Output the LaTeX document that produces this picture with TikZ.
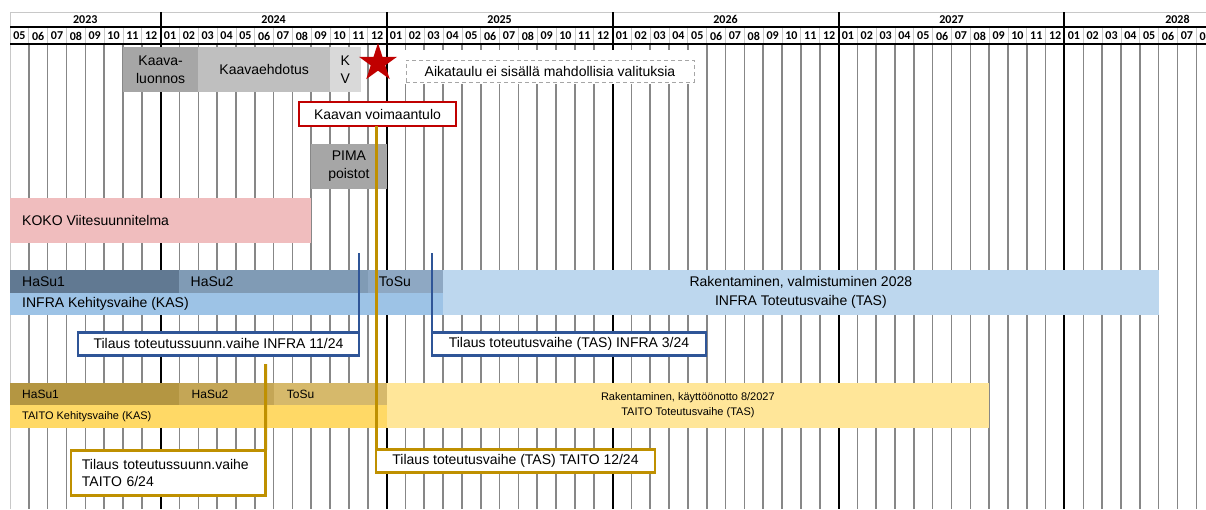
\documentclass[tikz,border=0pt]{standalone}
\usepackage{fontspec}
\setmainfont{Liberation Sans}
\newfontfamily\hdrfont{Carlito}
\usetikzlibrary{shapes.geometric}
\definecolor{gridgray}{HTML}{878787}
\definecolor{hdrgray}{HTML}{C8C8C8}
\definecolor{kaavaA}{HTML}{A6A6A6}
\definecolor{kaavaB}{HTML}{BFBFBF}
\definecolor{kaavaC}{HTML}{D9D9D9}
\definecolor{kokopink}{HTML}{F0BDBE}
\definecolor{ihasuA}{HTML}{617992}
\definecolor{ihasuB}{HTML}{809BB5}
\definecolor{itosu}{HTML}{8EA8C3}
\definecolor{ikas}{HTML}{9DC3E6}
\definecolor{itas}{HTML}{BDD7EE}
\definecolor{thasuA}{HTML}{B49642}
\definecolor{thasuB}{HTML}{C4A656}
\definecolor{ttosu}{HTML}{D6B96B}
\definecolor{tkas}{HTML}{FFD966}
\definecolor{ttas}{HTML}{FFE699}
\definecolor{cblue}{HTML}{2F5597}
\definecolor{cgold}{HTML}{BF9000}
\definecolor{cred}{HTML}{C00000}
\definecolor{dashgray}{HTML}{A6A6A6}

\newcommand\mx[1]{(10+18.83*(#1))}
\newcommand\ganttbar[7]{%
  \pgfmathsetmacro\gbxa{#2}\pgfmathsetmacro\gbxb{#3}%
  \pgfmathsetmacro\gbw{\gbxb-\gbxa}\pgfmathsetmacro\gbh{#5-#4}%
  \node[barbox, #6, minimum width=\gbw pt, minimum height=\gbh pt, anchor=north west] (#1) at (\gbxa,#4) {#7};}

\begin{document}
\begin{tikzpicture}[x=1pt,y=-1pt,
  barbox/.style={inner sep=0pt, outer sep=0pt, draw=none, align=center, font=\fontsize{14}{18}\selectfont},
  lbl/.style={inner sep=0pt, anchor=west, font=\fontsize{14}{17}\selectfont},
  slbl/.style={inner sep=0pt, anchor=west, font=\fontsize{12}{14}\selectfont},
  tlbl/.style={inner sep=0pt, anchor=west, font=\fontsize{11}{14}\selectfont},
  mnum/.style={inner sep=0pt, font=\hdrfont\bfseries\fontsize{12}{12}\selectfont},
  ynum/.style={inner sep=0pt, font=\hdrfont\bfseries\fontsize{12}{12}\selectfont},
  callout/.style={fill=white, line width=2.6pt, inner sep=0pt, outer sep=0pt, align=center, font=\fontsize{14}{17}\selectfont},
  bluecall/.style={callout, draw=cblue},
  goldcall/.style={callout, draw=cgold},
  blueline/.style={draw=cblue, line width=2.6pt},
  goldline/.style={draw=cgold, line width=3pt},
  gridline/.style={draw=gridgray, line width=1.6pt},
  yearline/.style={draw=black, line width=2pt},
]
\useasboundingbox (0,0) rectangle (1206,509);
\clip (0,0) rectangle (1206,509);
\fill[white] (0,0) rectangle (1206,509);

% ---- grid ----
\draw[hdrgray, line width=0.8pt] (10,12) -- (1206,12);
\draw[hdrgray, line width=1pt] (10,12) -- (10,509);
\foreach \m in {1,...,63} {
  \draw[hdrgray, line width=0.8pt] ({10+18.83*\m},27) -- ({10+18.83*\m},44);
  \draw[gridline] ({10+18.83*\m},44) -- ({10+18.83*\m},509);
}
\foreach \m in {8,20,32,44,56} {
  \draw[yearline] ({10+18.83*\m},12) -- ({10+18.83*\m},509);
}
\draw[black, line width=2pt] (10,27) -- (1206,27);
\draw[black, line width=2pt] (10,44) -- (1206,44);
\foreach \m in {0,...,63} {
  \pgfmathtruncatemacro\mn{mod(4+\m,12)+1}
  \node[mnum] (mn\m) at ({10+18.83*(\m+0.5)},36) {\ifnum\mn<10 0\fi\mn};
}
\foreach \yr/\c in {2023/4,2024/14,2025/26,2026/38,2027/50,2028/62} {
  \node[ynum] (yr\yr) at ({10+18.83*\c},19.5) {\yr};
}

% ---- plan bars ----
\ganttbar{luonnos}{\mx{6}}{\mx{10}}{47}{92}{fill=kaavaA}{Kaava-\\luonnos}
\ganttbar{ehdotus}{\mx{10}}{\mx{17}}{47}{92}{fill=kaavaB}{Kaavaehdotus}
\ganttbar{kv}{\mx{17}}{360.7}{47}{92}{fill=kaavaC}{K\\V}
\ganttbar{pima}{\mx{16}}{\mx{20}}{144}{189}{fill=kaavaA}{PIMA\\poistot}
\ganttbar{koko}{\mx{0}}{\mx{16}}{198}{243}{fill=kokopink}{}
\node[lbl] (kokoT) at ([xshift=12pt]koko.west) {KOKO Viitesuunnitelma};

% ---- INFRA ----
\ganttbar{itas}{\mx{23}}{\mx{61}}{270}{315}{fill=itas, font=\fontsize{14}{18.5}\selectfont}{Rakentaminen, valmistuminen 2028\\INFRA Toteutusvaihe (TAS)}
\ganttbar{ikas}{\mx{0}}{\mx{23}}{293}{315}{fill=ikas}{}
\ganttbar{ihasuA}{\mx{0}}{\mx{9}}{270}{293}{fill=ihasuA}{}
\ganttbar{ihasuB}{\mx{9}}{\mx{19}}{270}{293}{fill=ihasuB}{}
\ganttbar{itosu}{\mx{19}}{\mx{23}}{270}{293}{fill=itosu}{}
\node[lbl] (ihasuAT) at ([xshift=12pt]ihasuA.west) {HaSu1};
\node[lbl] (ihasuBT) at ([xshift=11pt]ihasuB.west) {HaSu2};
\node[lbl] (itosuT) at ([xshift=11pt]itosu.west) {ToSu};
\node[lbl] (ikasT) at ([xshift=12pt]ikas.west) {INFRA Kehitysvaihe (KAS)};

% ---- TAITO ----
\ganttbar{ttas}{\mx{20}}{\mx{52}}{383}{428}{fill=ttas, font=\fontsize{11}{15}\selectfont}{Rakentaminen, käyttöönotto 8/2027\\TAITO Toteutusvaihe (TAS)}
\ganttbar{tkas}{\mx{0}}{\mx{20}}{405}{428}{fill=tkas}{}
\ganttbar{thasuA}{\mx{0}}{\mx{9}}{383}{405}{fill=thasuA}{}
\ganttbar{thasuB}{\mx{9}}{\mx{14}}{383}{405}{fill=thasuB}{}
\ganttbar{ttosu}{\mx{14}}{\mx{20}}{383}{405}{fill=ttosu}{}
\node[slbl] (thasuAT) at ([xshift=12pt]thasuA.west) {HaSu1};
\node[slbl] (thasuBT) at ([xshift=12pt]thasuB.west) {HaSu2};
\node[slbl] (ttosuT) at ([xshift=13pt]ttosu.west) {ToSu};
\node[tlbl] (tkasT) at ([xshift=12pt]tkas.west) {TAITO Kehitysvaihe (KAS)};

% ---- notes ----
\fill[white] (403,50) rectangle (697,84);
\node[draw=dashgray, line width=1pt, dash pattern=on 4pt off 3pt, fill=white,
      minimum width=288pt, minimum height=22pt, inner sep=0pt,
      font=\fontsize{14}{17}\selectfont] (note) at (550,71) {Aikataulu ei sisällä mahdollisia valituksia};
\node[star, star points=5, star point ratio=2.618, minimum size=40pt, inner sep=0pt, fill=cred] (star) at (378,63) {};
\node[draw=cred, line width=1.6pt, fill=white, minimum width=157pt, minimum height=24pt, inner sep=0pt, outer sep=0pt,
      font=\fontsize{14}{17}\selectfont] (voim) at (377.5,114) {Kaavan voimaantulo};

% ---- callouts ----
\node[bluecall, minimum width=281pt, minimum height=23pt] (c1) at (218.5,343.7) {Tilaus toteutussuunn.vaihe INFRA 11/24};
\node[bluecall, minimum width=274pt, minimum height=23pt] (c2) at (569,343.7) {Tilaus toteutusvaihe (TAS) INFRA 3/24};
\node[goldcall, inner xsep=11pt, text width=172.7pt, align=left, minimum height=45pt] (c3) at (168.3,472.7) {Tilaus toteutussuunn.vaihe\\TAITO 6/24};
\node[goldcall, minimum width=279pt, minimum height=23pt] (c4) at (515.5,460.7) {Tilaus toteutusvaihe (TAS) TAITO 12/24};

\coordinate (c1top) at (359,253);
\coordinate (c2top) at (432,253);
\coordinate (c3top) at (265.7,364);
\draw[blueline] (c1.north east) -- (c1top);
\draw[blueline] (c2.north west) -- (c2top);
\draw[goldline] (c3.north east) -- (c3top);
\draw[goldline] (c4.north west) -- (c4.north west |- voim.south);
\end{tikzpicture}
\end{document}
